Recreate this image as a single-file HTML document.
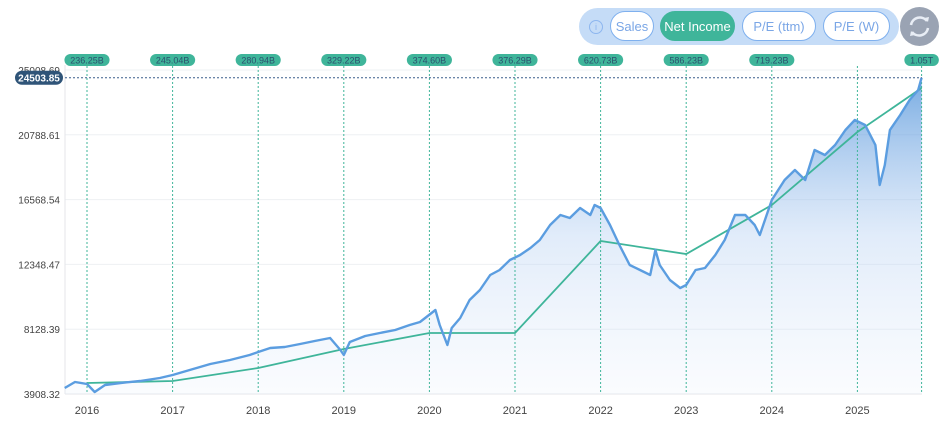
<!DOCTYPE html>
<html><head><meta charset="utf-8"><style>
body{margin:0;background:#fff;font-family:"Liberation Sans",sans-serif;}
#wrap{position:relative;width:945px;height:435px;overflow:hidden;}
.btnbar{position:absolute;left:579px;top:8px;width:320px;height:37px;background:#c5dcf7;border-radius:19px;}
.btn{position:absolute;top:3px;height:30px;border-radius:16px;background:#fff;border:1px solid #7fb0ee;color:#7aa6e6;font-size:13px;line-height:30px;text-align:center;box-sizing:border-box;}
.btn.active{background:#3fb59a;color:#fff;border-color:#3fb59a;}
.info{position:absolute;left:10px;top:12px;width:12px;height:12px;border:1px solid #8db6ef;border-radius:50%;color:#8db6ef;font-size:9px;line-height:12px;text-align:center;}
.refresh{position:absolute;left:900px;top:7px;width:39px;height:39px;border-radius:50%;background:#9aa3b3;}
</style></head><body>
<div id="wrap">
<div class="btnbar">
 <div class="info">i</div>
 <div class="btn" style="left:31px;width:44px">Sales</div>
 <div class="btn active" style="left:81px;width:75px">Net Income</div>
 <div class="btn" style="left:163px;width:74px">P/E (ttm)</div>
 <div class="btn" style="left:244px;width:67px">P/E (W)</div>
</div>
<div class="refresh">
<svg width="39" height="39" viewBox="0 0 39 39"><path d="M11 18a9 9 0 0 1 16-4" stroke="#e8edf5" stroke-width="2.5" fill="none"/><path d="M28 21a9 9 0 0 1-16 4" stroke="#e8edf5" stroke-width="2.5" fill="none"/><path d="M24 11l4 4 1-5z" fill="#e8edf5"/><path d="M15 28l-4-4-1 5z" fill="#e8edf5"/></svg>
</div>
<svg id="chart" width="945" height="435" style="position:absolute;left:0;top:0"></svg>
</div>
<script>
const yTicks=[3908.32,8128.39,12348.47,16568.54,20788.61,25008.69];
const years=[2016,2017,2018,2019,2020,2021,2022,2023,2024,2025];
const incomeYears=[2016,2017,2018,2019,2020,2021,2022,2023,2024,2025,2025.75];
const incomeLabels=["236.25B","245.04B","280.94B","329.22B","374.60B","376.29B","620.73B","586.23B","719.23B","","1.05T"];
const incomeScaled=[4624,4755,5601,6839,7881,7881,13872,13025,16216,20970,23836];
const priceDates=[2015.74,2015.86,2016.0,2016.09,2016.21,2016.39,2016.62,2016.85,2017.0,2017.2,2017.44,2017.67,2017.9,2018.0,2018.14,2018.31,2018.49,2018.66,2018.84,2018.96,2019.0,2019.07,2019.25,2019.42,2019.6,2019.77,2019.89,2020.07,2020.12,2020.21,2020.26,2020.36,2020.47,2020.59,2020.71,2020.82,2020.94,2021.06,2021.18,2021.29,2021.41,2021.53,2021.64,2021.76,2021.88,2021.93,2022.0,2022.11,2022.22,2022.34,2022.46,2022.58,2022.64,2022.69,2022.81,2022.93,2023.0,2023.11,2023.22,2023.34,2023.45,2023.57,2023.69,2023.8,2023.86,2024.0,2024.15,2024.27,2024.39,2024.5,2024.62,2024.74,2024.86,2024.97,2025.09,2025.21,2025.26,2025.32,2025.38,2025.5,2025.61,2025.71,2025.75];
const priceValues=[4299,4690,4559,4039,4494,4625,4755,4950,5146,5471,5862,6122,6448,6643,6904,6969,7164,7359,7555,6773,6448,7294,7685,7880,8076,8401,8597,9378,8401,7099,8206,8857,10029,10680,11657,11983,12634,12960,13416,13936,14913,15564,15369,16020,15564,16216,16020,14913,13611,12308,11983,11657,13285,12308,11332,10811,11006,11983,12113,12960,13936,15564,15564,14913,14262,16541,17844,18495,17844,19797,19472,20123,21100,21751,21425,20123,17518,18820,21100,22076,23053,23704,24504];
const lastPrice="24503.85";
const NS="http://www.w3.org/2000/svg";
const svg=document.getElementById('chart');
const X0=65,X1=922,Y0=394,Y1=70;
const xs=t=>87+(t-2016)*85.6;
const ys=v=>Y0-(v-yTicks[0])/(yTicks[5]-yTicks[0])*(Y0-Y1);
function mk(tag,attrs,parent){const e=document.createElementNS(NS,tag);for(const k in attrs)e.setAttribute(k,attrs[k]);(parent||svg).appendChild(e);return e;}
const defs=mk('defs',{});
const g=mk('linearGradient',{id:'bg',x1:0,y1:0,x2:0,y2:1},defs);
mk('stop',{offset:'0','stop-color':'#4a8fd8','stop-opacity':'0.75'},g);
mk('stop',{offset:'0.5','stop-color':'#a9c8f0','stop-opacity':'0.35'},g);
mk('stop',{offset:'1','stop-color':'#e6effb','stop-opacity':'0.2'},g);
yTicks.forEach((v,i)=>{
 const l=mk('line',{x1:X0,x2:X1,y1:ys(v),y2:ys(v),stroke:'#eef0f3'});
 
 const t=mk('text',{x:60,y:ys(v)+4,'text-anchor':'end','font-size':10,fill:'#444'});
 t.textContent=yTicks[i].toFixed(2);
 
});
mk('line',{x1:X0,x2:X0,y1:Y1-5,y2:Y0,stroke:'#e4e6ea'});
mk('line',{x1:X0,x2:X1,y1:Y0,y2:Y0,stroke:'#e4e6ea'});
years.forEach(y=>{
 const t=mk('text',{x:xs(y),y:414,'text-anchor':'middle','font-size':11,fill:'#444'});
 t.textContent=y;
 
});
// area
let d='M'+xs(priceDates[0])+','+Y0;
priceDates.forEach((t,i)=>d+='L'+xs(t).toFixed(1)+','+ys(priceValues[i]).toFixed(1));
d+='L'+xs(priceDates[priceDates.length-1])+','+Y0+'Z';
const area=mk('path',{d:d,fill:'url(#bg)'});

// income vertical lines and labels
incomeYears.forEach((t,i)=>{
 const x=xs(t);
 const l=mk('line',{x1:x,x2:x,y1:66,y2:Y0,stroke:'#3fb59a','stroke-dasharray':'2,2','stroke-width':1});
 
 if(incomeLabels[i]){
  const w=incomeLabels[i].length*5.3+8;
  const r=mk('rect',{x:x-w/2,y:54,width:w,height:12,rx:6,fill:'#3fb59a'});
  
  const tx=mk('text',{x:x,y:63.5,'text-anchor':'middle','font-size':9,fill:'#2c4f6e'});
  tx.textContent=incomeLabels[i];
  
 }
});
// income line
let di='';incomeYears.forEach((t,i)=>di+=(i?'L':'M')+xs(t)+','+ys(incomeScaled[i]));
const il=mk('path',{d:di,fill:'none',stroke:'#3fb59a','stroke-width':1.8});

// price line
let dp='';priceDates.forEach((t,i)=>dp+=(i?'L':'M')+xs(t).toFixed(1)+','+ys(priceValues[i]).toFixed(1));
const pl=mk('path',{d:dp,fill:'none',stroke:'#5b9de0','stroke-width':2.4,'stroke-linejoin':'round'});

// last price line
const ly=ys(priceValues[priceValues.length-1]);
const hl=mk('line',{x1:X0,x2:X1,y1:ly,y2:ly,stroke:'#3a5e8c','stroke-dasharray':'2,2'});

const lr=mk('rect',{x:15,y:ly-7,width:48,height:14,rx:7,fill:'#2f5478'});

const lt=mk('text',{x:39,y:ly+4,'text-anchor':'middle','font-size':10,'font-weight':'bold',fill:'#fff'});
lt.textContent=lastPrice;

</script>
</body></html>
